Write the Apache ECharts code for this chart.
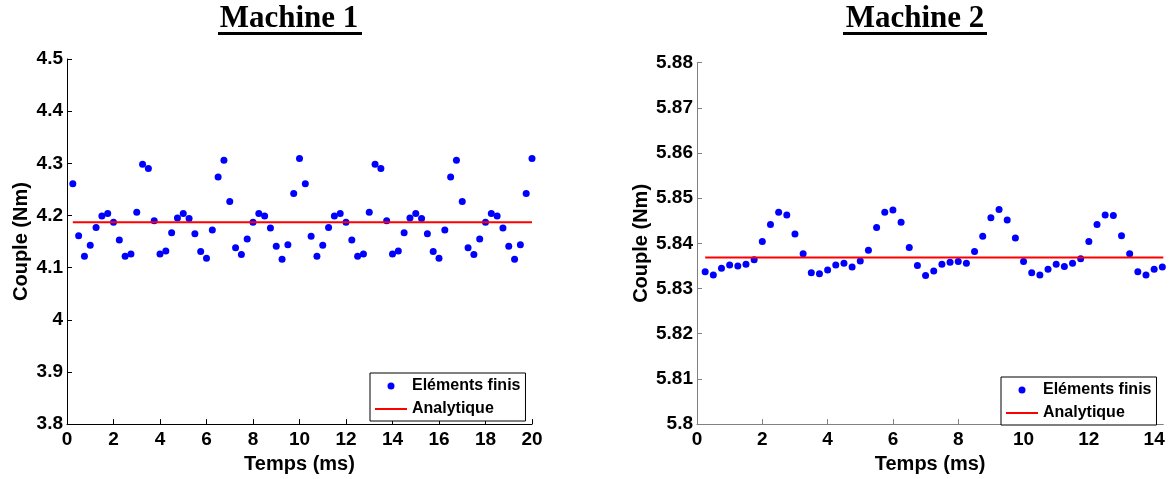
<!DOCTYPE html>
<html>
<head>
<meta charset="utf-8">
<script src="https://cdn.jsdelivr.net/npm/echarts@6/dist/echarts.min.js"></script>
<style>
html,body{margin:0;padding:0;background:#fff;}
#chart{width:1171px;height:479px;}
</style>
</head>
<body>
<div id="chart"></div>
<script>
// ---------- DATA ----------
const titles = ['Machine 1', 'Machine 2'];
const seriesNames = ['Eléments finis', 'Analytique'];
const xAxisName = 'Temps (ms)';
const yAxisName = 'Couple (Nm)';

// Machine 1
const timeM1 = [0.25,0.5,0.75,1,1.25,1.5,1.75,2,2.25,2.5,2.75,3,3.25,3.5,3.75,4,4.25,4.5,4.75,5,
  5.25,5.5,5.75,6,6.25,6.5,6.75,7,7.25,7.5,7.75,8,8.25,8.5,8.75,9,9.25,9.5,9.75,10,
  10.25,10.5,10.75,11,11.25,11.5,11.75,12,12.25,12.5,12.75,13,13.25,13.5,13.75,14,14.25,14.5,14.75,15,
  15.25,15.5,15.75,16,16.25,16.5,16.75,17,17.25,17.5,17.75,18,18.25,18.5,18.75,19,19.25,19.5,19.75,20];
const feM1 = [4.261,4.161,4.122,4.143,4.177,4.199,4.204,4.187,4.153,4.122,4.126,4.206,4.298,4.290,4.190,4.126,4.132,4.167,4.195,4.204,
  4.194,4.165,4.131,4.118,4.172,4.274,4.306,4.227,4.138,4.125,4.155,4.187,4.204,4.199,4.176,4.141,4.116,4.144,4.242,4.309,
  4.261,4.160,4.122,4.143,4.177,4.199,4.204,4.187,4.153,4.122,4.126,4.206,4.298,4.290,4.190,4.126,4.132,4.167,4.195,4.204,
  4.194,4.165,4.131,4.118,4.172,4.274,4.306,4.227,4.138,4.125,4.155,4.187,4.204,4.199,4.176,4.141,4.116,4.144,4.242,4.309];
const anaTimeM1 = [0.25, 20];
const anaM1 = [4.187, 4.187];
const xTicksM1 = [0,2,4,6,8,10,12,14,16,18,20];
const yTicksM1 = [3.8,3.9,4,4.1,4.2,4.3,4.4,4.5];

// Machine 2
const timeM2 = [0.25,0.5,0.75,1,1.25,1.5,1.75,2,2.25,2.5,2.75,3,3.25,3.5,3.75,4,4.25,4.5,4.75,5,
  5.25,5.5,5.75,6,6.25,6.5,6.75,7,7.25,7.5,7.75,8,8.25,8.5,8.75,9,9.25,9.5,9.75,10,
  10.25,10.5,10.75,11,11.25,11.5,11.75,12,12.25,12.5,12.75,13,13.25,13.5,13.75,14,14.25];
const feM2 = [5.8337,5.8330,5.8345,5.8352,5.8350,5.8354,5.8364,5.8404,5.8442,5.8469,5.8463,5.8421,5.8377,5.8335,5.8333,5.8341,5.8352,5.8356,5.8348,5.8361,
  5.8385,5.8435,5.8469,5.8474,5.8447,5.8391,5.8351,5.8329,5.8339,5.8354,5.8358,5.8360,5.8356,5.8382,5.8416,5.8457,5.8475,5.8452,5.8412,5.8360,
  5.8335,5.8330,5.8343,5.8354,5.8349,5.8356,5.8366,5.8404,5.8442,5.8463,5.8462,5.8417,5.8377,5.8337,5.8330,5.8343,5.8348];
const anaTimeM2 = [0.25, 14.28];
const anaM2 = [5.8369, 5.8369];
const xTicksM2 = [0,2,4,6,8,10,12,14];
const yTicksM2 = [5.8,5.81,5.82,5.83,5.84,5.85,5.86,5.87,5.88];

// ---------- CHART ----------
const SANS = '"Liberation Sans", Arial, sans-serif';
const SERIF = '"Liberation Serif", "Times New Roman", serif';
const zip = (a, b) => a.map((v, i) => [v, b[i]]);

function xAxisCfg(gi, ticks, max, axColor) {
  return {
    gridIndex: gi, type: 'value', min: 0, max: max, interval: 2,
    name: xAxisName, nameLocation: 'middle', nameGap: 27,
    nameTextStyle: {fontFamily: SANS, fontWeight: 'bold', fontSize: 20, color: '#000'},
    axisLine: {show: true, onZero: false, lineStyle: {color: axColor, width: 1}},
    axisTick: {show: true, inside: true, length: 5, customValues: ticks, lineStyle: {color: axColor}},
    axisLabel: {customValues: ticks, margin: 6, fontFamily: SANS, fontWeight: 'bold', fontSize: 19, color: '#000'},
    splitLine: {show: false}
  };
}
function yAxisCfg(gi, ticks, min, max, interval, gap, axColor) {
  return {
    gridIndex: gi, type: 'value', min: min, max: max, interval: interval,
    name: yAxisName, nameLocation: 'middle', nameGap: gap,
    nameTextStyle: {fontFamily: SANS, fontWeight: 'bold', fontSize: 20, color: '#000'},
    axisLine: {show: true, onZero: false, lineStyle: {color: axColor, width: 1}},
    axisTick: {show: true, inside: true, length: 5, customValues: ticks, lineStyle: {color: axColor}},
    axisLabel: {customValues: ticks, margin: 4, fontFamily: SANS, fontWeight: 'bold', fontSize: 19, color: '#000'},
    splitLine: {show: false}
  };
}
function legendCfg(left, top) {
  return {
    left: left, top: top, orient: 'vertical',
    itemWidth: 32, itemHeight: 7, itemGap: 7,
    padding: [5, 5, 4, 5],
    borderColor: '#000', borderWidth: 1, backgroundColor: '#fff',
    textStyle: {fontFamily: SANS, fontWeight: 'bold', fontSize: 16, color: '#000'},
    data: [
      {name: seriesNames[0], icon: 'circle', itemStyle: {color: '#0000ff', opacity: 1}},
      {name: seriesNames[1], icon: 'path://M0,0L32,0L32,2L0,2Z', itemStyle: {color: '#ff0000'}}
    ],
    selectedMode: false
  };
}
function titleGraphics(text, cx, ulLeft, ulRight) {
  return [
    {type: 'text', style: {text: text, x: cx, y: 19, font: 'bold 31px ' + SERIF, fill: '#000', align: 'center', verticalAlign: 'middle'}},
    {type: 'rect', shape: {x: ulLeft, y: 32, width: ulRight - ulLeft, height: 3}, style: {fill: '#000'}}
  ];
}

const chart = echarts.init(document.getElementById('chart'), null, {renderer: 'canvas'});
chart.setOption({
  backgroundColor: '#fff',
  animation: false,
  grid: [
    {left: 67, top: 59, width: 465, height: 367},
    {left: 697, top: 62.7, width: 466.3, height: 365.3}
  ],
  xAxis: [
    xAxisCfg(0, xTicksM1, 20, '#000'),
    xAxisCfg(1, xTicksM2, 14.28, '#808080')
  ],
  yAxis: [
    yAxisCfg(0, yTicksM1, 3.8, 4.5, 0.1, 36, '#000'),
    yAxisCfg(1, yTicksM2, 5.8, 5.88, 0.01, 46, '#808080')
  ],
  legend: [legendCfg(370, 373), legendCfg(1001, 377)],
  graphic: [].concat(
    titleGraphics(titles[0], 289, 218, 362),
    titleGraphics(titles[1], 915, 843, 987)
  ),
  series: [
    {name: seriesNames[0], type: 'scatter', xAxisIndex: 0, yAxisIndex: 0, symbol: 'circle', symbolSize: 7,
     itemStyle: {color: '#0000ff', opacity: 1}, data: zip(timeM1, feM1)},
    {name: seriesNames[1], type: 'line', xAxisIndex: 0, yAxisIndex: 0, symbol: 'none',
     lineStyle: {color: '#ff0000', width: 2}, itemStyle: {color: '#ff0000'}, data: zip(anaTimeM1, anaM1)},
    {name: seriesNames[0], type: 'scatter', xAxisIndex: 1, yAxisIndex: 1, symbol: 'circle', symbolSize: 7,
     itemStyle: {color: '#0000ff', opacity: 1}, data: zip(timeM2, feM2)},
    {name: seriesNames[1], type: 'line', xAxisIndex: 1, yAxisIndex: 1, symbol: 'none',
     lineStyle: {color: '#ff0000', width: 2}, itemStyle: {color: '#ff0000'}, data: zip(anaTimeM2, anaM2)}
  ]
});
</script>
</body>
</html>
